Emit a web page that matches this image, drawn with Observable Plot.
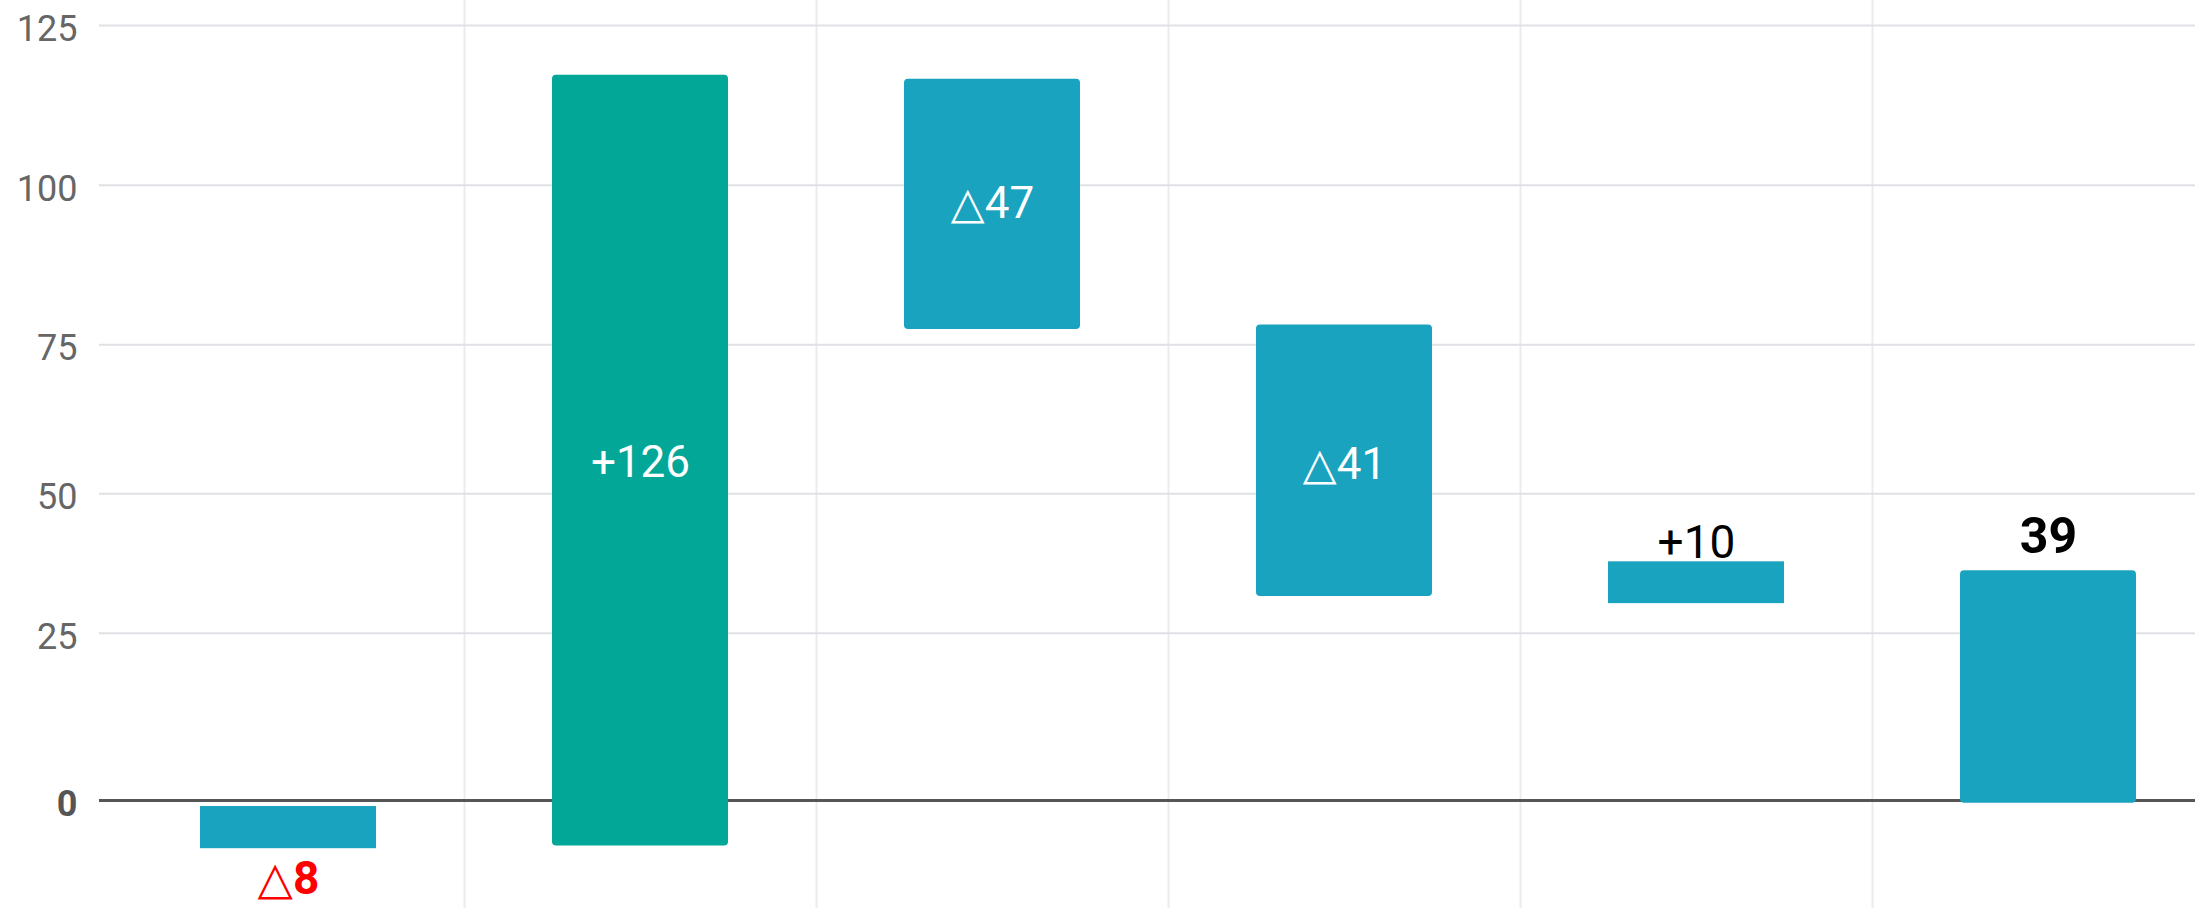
<!DOCTYPE html>
<html>
<head>
<meta charset="utf-8">
<script src="https://cdn.jsdelivr.net/npm/d3@7"></script>
<script src="https://cdn.jsdelivr.net/npm/@observablehq/plot@0.6"></script>
<style>
  html, body { margin: 0; padding: 0; background: #fff; overflow: hidden; }
</style>
</head>
<body>
<div id="chart"></div>
<script>
// ---- data ----
const labels   = ["△8", "+126", "△47", "△41", "+10", "39"];
const barHigh  = [-0.9, 117.2, 116.6, 78.1, 37.8, 36.2];
const barLow   = [-7.2,  -6.8,  77.4, 31.6, 30.3, -0.4];
const barGroup = ["other", "gain", "other", "other", "other", "other"];
const yTicks   = [0, 25, 50, 75, 100, 125];

// ---- scale configuration (the reference's gridlines are unevenly spaced) ----
const yRange = [800, 632.7, 493.3, 344.3, 184.7, 25];
const xRange = [112, 2224];

const BLUE = "#1aa3bf", GREEN = "#03a797";

const data = labels.map((label, i) => ({
  i, label, high: barHigh[i], low: barLow[i], group: barGroup[i]
}));
const last = data.length - 1;
const isShort = d => d.high - d.low < 10;
const half = 0.25;

const inside = data.filter(d => d.i !== last && d.high > 0 && !isShort(d));
const above  = data.filter(d => d.i !== last && d.high > 0 && isShort(d));
const below  = data.filter(d => d.high <= 0);
const total  = data.filter(d => d.i === last);

const chart = Plot.plot({
  width: 2195,
  height: 908,
  marginLeft: 99,
  marginRight: 0,
  marginTop: 0,
  marginBottom: 0,
  style: { fontFamily: "Roboto, 'DejaVu Sans', sans-serif", background: "#fff" },
  x: { type: "linear", domain: [-0.5, data.length - 0.5], range: xRange, axis: null },
  y: { type: "linear", domain: yTicks, range: yRange, axis: null, label: null },
  color: { domain: ["gain", "other"], range: [GREEN, BLUE] },
  marks: [
    Plot.gridX({ ticks: d3.range(0.5, data.length - 1, 1), stroke: "#ebecee", strokeOpacity: 1, strokeWidth: 2 }),
    Plot.gridY({ ticks: yTicks.filter(t => t !== 0), stroke: "#dfe1e5", strokeOpacity: 1, strokeWidth: 2 }),
    Plot.axisY({ ticks: yTicks.filter(t => t !== 0), tickSize: 0, tickPadding: 22, fontSize: 36, fill: "#666", dy: 4, label: null }),
    Plot.axisY({ ticks: [0], tickSize: 0, tickPadding: 22, fontSize: 36, fontWeight: 700, fill: "#555", dy: 4, label: null }),
    Plot.ruleY([0], { stroke: "#555", strokeWidth: 3 }),
    Plot.rect(data.filter(d => !isShort(d)), {
      x1: d => d.i - half, x2: d => d.i + half, y1: "low", y2: "high", fill: "group", rx: 4
    }),
    Plot.rect(data.filter(isShort), {
      x1: d => d.i - half, x2: d => d.i + half, y1: "low", y2: "high", fill: "group"
    }),
    Plot.text(inside, {
      x: "i", y: d => (d.high + d.low) / 2, text: "label", fill: "#fff", fontSize: 44
    }),
    Plot.text(above, {
      x: "i", y: "high", text: "label", fill: "#000", fontSize: 46, lineAnchor: "bottom", dy: -4
    }),
    Plot.text(total, {
      x: "i", y: "high", text: "label", fill: "#000", fontSize: 50, fontWeight: 700, lineAnchor: "bottom", dy: -18
    }),
    Plot.text(below, {
      x: "i", y: "low", text: "label", fill: "#ff0000", fontSize: 46, fontWeight: 700, lineAnchor: "top", dy: 13
    })
  ]
});
document.getElementById("chart").appendChild(chart);
</script>
</body>
</html>
